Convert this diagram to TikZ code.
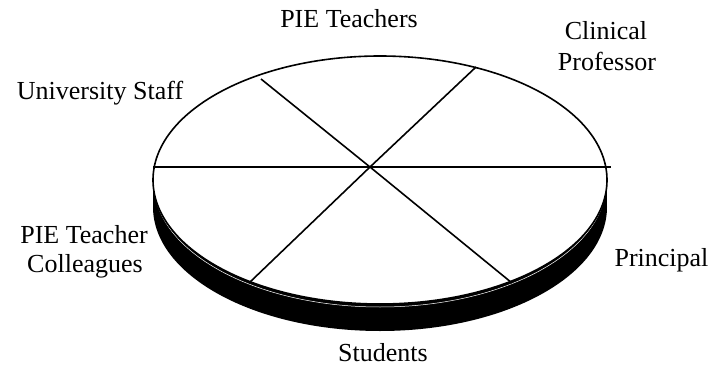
\documentclass[tikz,border=0pt]{standalone}
\usepackage{fontspec}
\setmainfont{Liberation Serif}
\begin{document}
\begin{tikzpicture}[x=1pt,y=-1pt,
  lbl/.style={font=\fontsize{26}{30}\selectfont, inner sep=0pt, anchor=base},
  edge/.style={line width=1.6pt},
  rim/.style={x radius=227, y radius=124}]
\useasboundingbox (0,0) rectangle (713,367);
\fill[white] (0,0) rectangle (713,367);
% side band of the disc
\fill[black] (380,207) ellipse [rim];
\fill[black] (153,180) rectangle (607,207);
\draw[white, line width=0.5pt] (154,183) arc [start angle=180, end angle=0, x radius=226, y radius=124];
% top face
\filldraw[fill=white, draw=black, line width=1.6pt] (380,180) ellipse [rim];
% division lines
\coordinate (c) at (370,167);
\coordinate (a1) at (261,79);
\coordinate (a2) at (512,283);
\coordinate (b1) at (476,67);
\coordinate (b2) at (249,283);
\coordinate (h1) at (153,167);
\coordinate (h2) at (611,167);
\draw[edge] (a1) -- (c) -- (a2);
\draw[edge] (b1) -- (c) -- (b2);
\draw[edge] (h1) -- (c) -- (h2);
% labels
\node[lbl] (pie) at (349,27) {PIE Teachers};
\node[lbl] (clin1) at (606,39.5) {Clinical};
\node[lbl] (clin2) at (607,70) {Professor};
\node[lbl] (univ) at (100,99.3) {University Staff};
\node[lbl] (col1) at (84,243.3) {PIE Teacher};
\node[lbl] (col2) at (85,272.7) {Colleagues};
\node[lbl] (prin) at (661.5,266.7) {Principal};
\node[lbl] (stud) at (383,361.7) {Students};
\end{tikzpicture}
\end{document}
